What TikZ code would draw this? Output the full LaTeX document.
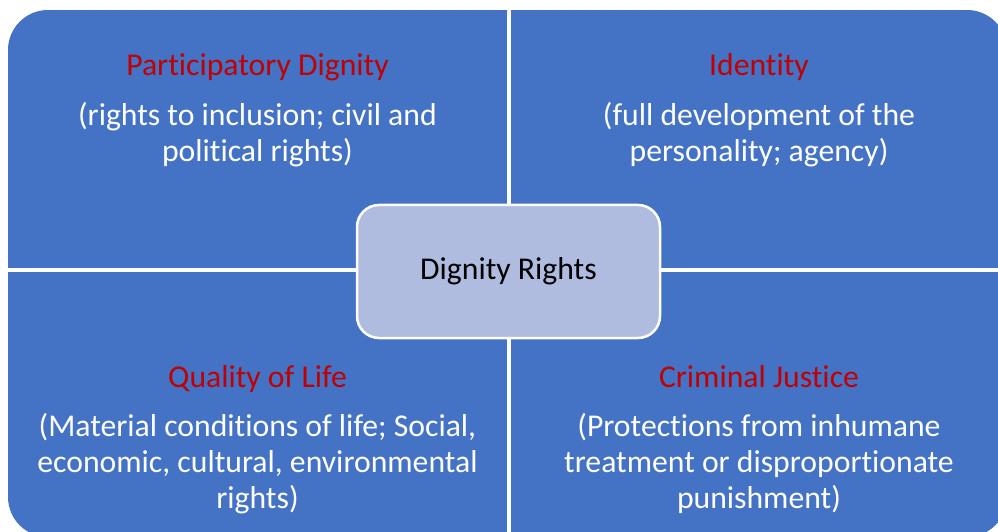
\documentclass[tikz,border=0pt]{standalone}
\usepackage{fontspec}
\setmainfont{Carlito}[Ligatures=NoCommon]
\definecolor{quadblue}{RGB}{68,114,196}
\definecolor{hubblue}{RGB}{176,188,223}
\definecolor{titlered}{RGB}{192,0,0}

\tikzset{
  quad/.style={rectangle, fill=quadblue, inner sep=0pt, anchor=south west},
  heading/.style={text=titlered, text height=22pt, text depth=7pt, font=\fontsize{31.7pt}{36pt}\selectfont},
  body/.style={text=white, align=center, font=\fontsize{31.7pt}{36pt}\selectfont},
  hub/.style={rectangle, rounded corners=22pt, draw=white, line width=2.5pt, fill=hubblue,
    minimum width=303pt, minimum height=133pt, font=\fontsize{31.7pt}{36pt}\selectfont}
}

\begin{document}
\begin{tikzpicture}[x=1pt, y=1pt]
  \useasboundingbox (0,0) rectangle (998,531);
  % four quadrants, outer corners rounded
  \begin{scope}
    \clip[rounded corners=40pt] (8,-6) rectangle (1007,521);
    \node[quad, minimum width=499pt, minimum height=258pt] (pd) at (8,263) {};
    \node[quad, minimum width=496pt, minimum height=258pt] (id) at (511,263) {};
    \node[quad, minimum width=499pt, minimum height=265pt] (ql) at (8,-6) {};
    \node[quad, minimum width=496pt, minimum height=265pt] (cj) at (511,-6) {};
  \end{scope}

  % Participatory Dignity
  \node[heading] (pdtitle) at (257.5,462.5) {Participatory Dignity};
  \node[body] (pdtext) at (257.5,396.5) {(rights to inclusion; civil and\\political rights)};
  % Identity
  \node[heading] (idtitle) at (759,462.5) {Identity};
  \node[body] (idtext) at (759,396.5) {(full development of the\\personality; agency)};
  % Quality of Life
  \node[heading] (qltitle) at (257.5,151) {Quality of Life};
  \node[body] (qltext) at (257.5,67.5) {(Material conditions of life; Social,\\economic, cultural, environmental\\rights)};
  % Criminal Justice
  \node[heading] (cjtitle) at (759,151) {Criminal Justice};
  \node[body] (cjtext) at (759,68) {(Protections from inhumane\\treatment or disproportionate\\punishment)};

  % centre
  \node[hub] (dr) at (508.5,259.5) {Dignity Rights};
\end{tikzpicture}
\end{document}
